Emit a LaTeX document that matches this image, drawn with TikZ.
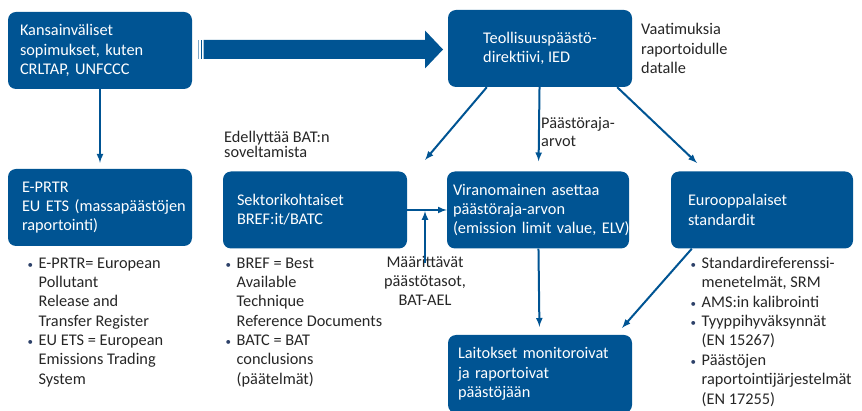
\documentclass[tikz,border=0pt]{standalone}
\usepackage{fontspec}
\setmainfont{Carlito}
\usepackage{pgf,tikz}
\usepackage{tkz-euclide}
\usepackage{xcolor}
\usetikzlibrary{arrows}
\usetikzlibrary{arrows, calc}

\definecolor{boxblue}{RGB}{0,84,147}
\definecolor{txtgray}{RGB}{38,38,38}
\definecolor{bulblue}{RGB}{45,65,105}

\newcommand{\bul}{\makebox[11pt][l]{\textcolor{bulblue}{\fontsize{11}{11}\selectfont\textbullet}}}
\newcommand{\ind}{\hspace*{11pt}}
\newcommand{\tightlines}{\lineskiplimit=-10pt\relax}
\hyphenpenalty=10000
\exhyphenpenalty=10000

\tikzset{
  boxnode/.style={fill=boxblue, rounded corners=8pt, text=white, align=left,
    minimum height=77pt, inner ysep=0pt,
    font=\fontsize{16.3}{19.3}\selectfont},
  labelnode/.style={inner sep=0pt, align=left, text=txtgray,
    font=\fontsize{16.3}{19.3}\selectfont\tightlines},
  arr/.style={draw=boxblue, line width=2pt, -latex}
}

\begin{document}
\begin{tikzpicture}[x=1pt,y=-1pt]
        \useasboundingbox (0,0) rectangle (862,411);
        \clip (0,0) rectangle (862,411);

        \node[boxnode, text width=160pt, inner xsep=12pt] (kans) at (100,50.5) {Kansainväliset\\sopimukset, kuten\\CRLTAP, UNFCCC};
        \node[boxnode, minimum width=184pt] (ied) at (540,48.5) {Teollisuuspäästö-\\direktiivi, IED};
        \node[boxnode, text width=156pt, inner xsep=14pt] (eprtr) at (100,207.5) {E-PRTR\\EU~ETS~(massapäästöjen\\raportointi)};
        \node[boxnode, text width=156pt, inner xsep=14pt] (sek) at (315,210) {Sektorikohtaiset\\BREF:it/BATC};
        \node[boxnode, text width=170pt, inner xsep=6pt] (elv) at (538,210) {Viranomainen asettaa\\päästöraja-arvon\\(emission~limit~value,~ELV)};
        \node[boxnode, text width=148pt, inner xsep=17pt] (eur) at (762,210) {Eurooppalaiset\\standardit};
        \node[boxnode, text width=164pt, inner xsep=10pt, minimum height=78pt] (lait) at (540,374) {Laitokset monitoroivat\\ja raportoivat\\päästöjään};

        % base = viimeisen rivin perusviiva
        \node[labelnode, anchor=base west] (vaat) at (641,73.6) {Vaatimuksia\\raportoidulle\\datalle};
        \node[labelnode, anchor=base west, font=\fontsize{16.3}{18}\selectfont\tightlines] (raja) at (541,146.5) {Päästöraja-\\arvot};
        \node[labelnode, anchor=base west, font=\fontsize{16.3}{15.5}\selectfont\tightlines] (edel) at (224,158) {Edellyttää BAT:n\\soveltamista};
        \node[labelnode, anchor=base, align=center] (bat) at (425,305.9) {Määrittävät\\päästötasot,\\BAT-AEL};

        \node[labelnode, anchor=base west] (eprtrlist) at (27.5,384.1) {\bul E-PRTR= European\\\ind Pollutant\\\ind Release and\\\ind Transfer Register\\\bul EU ETS = European\\\ind Emissions Trading\\\ind System};
        \node[labelnode, anchor=base west] (seklist) at (225.5,384.1) {\bul BREF = Best\\\ind Available\\\ind Technique\\\ind Reference Documents\\\bul BATC = BAT\\\ind conclusions\\\ind (päätelmät)};
        \node[labelnode, anchor=base west, font=\fontsize{16.3}{19.4}\selectfont\tightlines] (eurlist) at (690.5,404.1) {\bul Standardireferenssi-\\\ind menetelmät, SRM\\\bul AMS:in kalibrointi\\\bul Tyyppihyväksynnät\\\ind (EN 15267)\\\bul Päästöjen\\\ind raportointijärjestelmät\\\ind (EN 17255)};

        % leveä nuoli
        \fill[boxblue, opacity=0.5] (197.5,40) rectangle (199,59);
        \fill[boxblue] (200.5,40) rectangle (202,59);
        \fill[boxblue] (203.5,40) -- (425,40) -- (425,30.5) -- (443,49.5) -- (425,68.5) -- (425,59) -- (203.5,59) -- cycle;

        \tkzDefPoint(425,160){P_1}
        \tkzDefPoint(697,163){P_2}
        \tkzDefPoint(622,328){P_3}

        \draw[arr, shorten >=6pt] (kans) -- (eprtr);
        \draw[arr] ($(ied.south west)+(39,0)$) -- (P_1);
        \draw[arr, shorten >=10pt] (ied) -- (elv);
        \draw[arr] ($(ied.south east)+(-15,0)$) -- (P_2);
        \draw[arr] (sek) -- (elv);
        \draw[arr, shorten <=-7pt, shorten >=1pt] (bat.north) -- (bat.north |- sek.east);
        \draw[arr, shorten >=8pt] (elv) -- (lait);
        \draw[arr] ($(eur.south west)+(21,0)$) -- (P_3);
\end{tikzpicture}
\end{document}
